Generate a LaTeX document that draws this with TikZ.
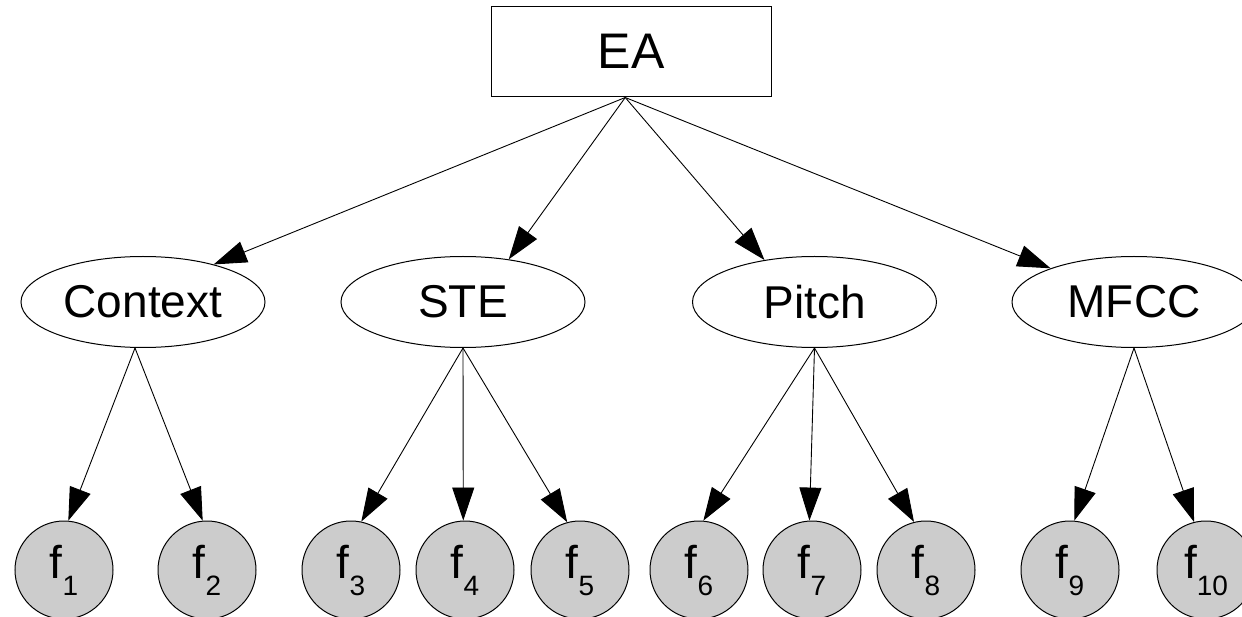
\documentclass[tikz,border=0pt]{standalone}
\usepackage{fontspec}
\setmainfont{Liberation Sans}
\usetikzlibrary{shapes.geometric,arrows.meta,calc}
\definecolor{featgray}{HTML}{CCCCCC}
\newcommand\featlab[1]{f\raisebox{-17pt}{\fontsize{28}{28}\selectfont #1}}
\begin{document}
\begin{tikzpicture}[x=1pt,y=1pt,
  every node/.style={font=\fontsize{46}{46}\selectfont},
  topbox/.style={draw, line width=1pt, minimum width=279.5pt, minimum height=90.5pt, inner sep=0pt, font=\fontsize{50}{50}\selectfont},
  catnode/.style={ellipse, draw, line width=1pt, minimum width=244pt, minimum height=91pt, inner sep=0pt},
  featnode/.style={circle, draw, line width=1pt, fill=featgray, minimum size=98pt, inner sep=0pt},
  edge/.style={line width=0.9pt, -{Triangle[length=33pt,width=22pt]}}
]
\useasboundingbox (0,0) rectangle (1242,-617);
\clip (0,0) rectangle (1242,-617);

\node[topbox] (ea) at (631.25,-51.75) {EA};
\coordinate (eo) at ($(ea.south)+(-6,0)$);

\node[catnode] (ctx) at (143,-302) {Context};
\node[catnode] (ste) at (463,-302) {STE};
\node[catnode] (pit) at (814.5,-302) {Pitch};
\node[catnode] (mfc) at (1134,-302) {MFCC};
\coordinate (ctxb) at ($(ctx.south)+(-8,0)$);

\node[featnode] (f1) at (64,-570) {\featlab{1}};
\node[featnode] (f2) at (207,-570) {\featlab{2}};
\node[featnode] (f3) at (351,-570) {\featlab{3}};
\node[featnode] (f4) at (465,-570) {\featlab{4}};
\node[featnode] (f5) at (580,-570) {\featlab{5}};
\node[featnode] (f6) at (699,-570) {\featlab{6}};
\node[featnode] (f7) at (812,-570) {\featlab{7}};
\node[featnode] (f8) at (926,-570) {\featlab{8}};
\node[featnode] (f9) at (1070,-570) {\featlab{9}};
\node[featnode] (f10) at (1206,-570) {\featlab{10}};

\draw[edge] (eo) -- (ctx.28);
\draw[edge] (eo) -- (ste.43);
\draw[edge] (eo) -- (pit.140);
\draw[edge] (eo) -- (mfc.158);

\draw[edge] (ctxb) -- (f1.85);
\draw[edge] (ctxb) -- (f2.95);
\draw[edge] (ste.south) -- (f3.78);
\draw[edge] (ste.south) -- (f4.92);
\draw[edge] (ste.south) -- (f5.105);
\draw[edge] (pit.south) -- (f6.85);
\draw[edge] (pit.south) -- (f7.93);
\draw[edge] (pit.south) -- (f8.104);
\draw[edge] (mfc.south) -- (f9.85);
\draw[edge] (mfc.south) -- (f10.104);
\end{tikzpicture}
\end{document}
